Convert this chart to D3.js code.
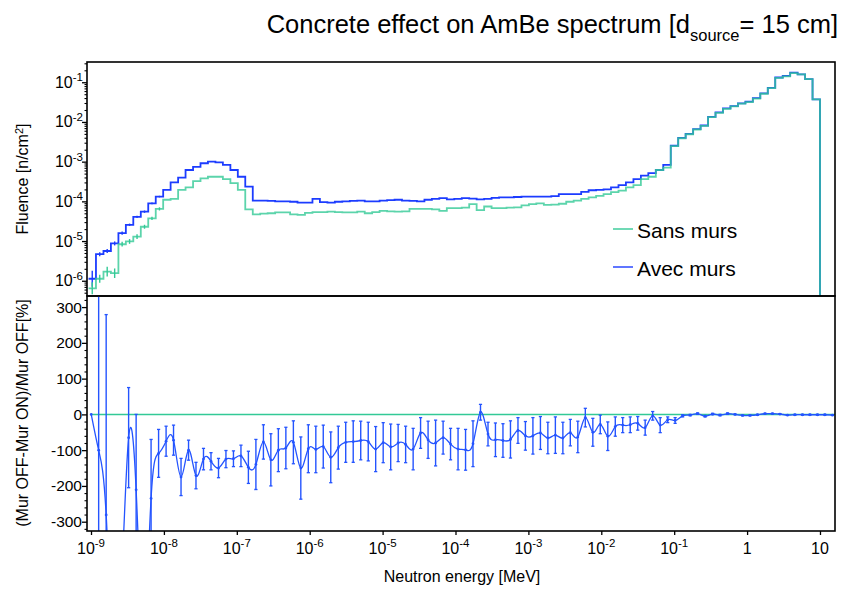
<!DOCTYPE html>
<html><head><meta charset="utf-8">
<script src="https://cdn.jsdelivr.net/npm/d3@7"></script>
<style>
body{margin:0;background:#fff}
text{font-family:"Liberation Sans",Arial,Helvetica,sans-serif;fill:#000}
</style>
</head><body>
<svg id="c" width="849" height="589"></svg>
<script>
// ---------------- DATA ----------------
// histogram bin edges (log10 of energy in MeV), 98 bins
const histEdgesLog10 = [-9.034,-8.932,-8.829,-8.727,-8.624,-8.522,-8.420,-8.317,-8.215,-8.112,
 -8.010,-7.908,-7.805,-7.703,-7.600,-7.498,-7.396,-7.293,-7.191,-7.088,
 -6.986,-6.884,-6.781,-6.679,-6.577,-6.474,-6.372,-6.269,-6.167,-6.065,
 -5.962,-5.860,-5.757,-5.655,-5.553,-5.450,-5.348,-5.245,-5.143,-5.041,
 -4.938,-4.836,-4.734,-4.631,-4.529,-4.426,-4.324,-4.222,-4.119,-4.017,
 -3.914,-3.812,-3.710,-3.607,-3.505,-3.402,-3.300,-3.198,-3.095,-2.993,
 -2.891,-2.788,-2.686,-2.583,-2.481,-2.379,-2.276,-2.174,-2.071,-1.969,
 -1.867,-1.764,-1.662,-1.559,-1.457,-1.355,-1.252,-1.150,-1.047,-0.945,
 -0.843,-0.740,-0.638,-0.535,-0.433,-0.331,-0.228,-0.126,-0.023,0.079,
 0.181,0.284,0.386,0.489,0.591,0.693,0.796,0.898,1.000];
// fluence per bin, log10 [n/cm2]
const sansMursLog10 = [-6.19,-5.95,-5.77,-5.81,-5.08,-5.01,-4.89,-4.64,-4.43,-4.19,
 -3.96,-3.94,-3.71,-3.65,-3.49,-3.42,-3.38,-3.38,-3.44,-3.54,
 -3.71,-4.20,-4.33,-4.31,-4.30,-4.28,-4.28,-4.33,-4.34,-4.29,
 -4.27,-4.27,-4.26,-4.27,-4.28,-4.28,-4.26,-4.30,-4.27,-4.24,
 -4.25,-4.26,-4.25,-4.19,-4.19,-4.19,-4.20,-4.24,-4.17,-4.17,
 -4.16,-4.07,-4.22,-4.13,-4.17,-4.17,-4.16,-4.15,-4.10,-4.07,
 -4.05,-4.09,-4.08,-4.06,-4.01,-3.98,-3.94,-3.90,-3.86,-3.82,
 -3.77,-3.73,-3.65,-3.59,-3.44,-3.38,-3.21,-3.15,-2.61,-2.41,
 -2.31,-2.19,-2.10,-1.88,-1.77,-1.67,-1.61,-1.54,-1.50,-1.41,
 -1.29,-1.15,-0.89,-0.85,-0.77,-0.80,-0.92,-1.43];
const avecMursLog10 = [-5.95,-5.33,-5.25,-5.06,-4.80,-4.59,-4.39,-4.26,-4.05,-3.88,
 -3.71,-3.52,-3.40,-3.21,-3.13,-3.04,-3.00,-3.02,-3.08,-3.21,
 -3.38,-3.63,-3.98,-3.98,-3.99,-4.00,-4.00,-4.01,-4.03,-4.03,
 -3.94,-4.02,-4.03,-4.01,-4.00,-3.99,-3.98,-4.00,-4.00,-3.98,
 -3.97,-3.96,-3.98,-3.99,-4.00,-3.96,-3.94,-3.92,-3.95,-3.94,
 -3.92,-3.93,-3.95,-3.94,-3.91,-3.90,-3.90,-3.89,-3.88,-3.88,
 -3.88,-3.88,-3.87,-3.82,-3.82,-3.82,-3.76,-3.72,-3.71,-3.70,
 -3.65,-3.59,-3.52,-3.44,-3.35,-3.29,-3.21,-3.08,-2.60,-2.40,
 -2.30,-2.18,-2.09,-1.87,-1.76,-1.66,-1.60,-1.53,-1.49,-1.40,
 -1.28,-1.14,-0.88,-0.84,-0.76,-0.80,-0.92,-1.43];
// statistical error (half length, in decades) of the first low-energy bins
const sansErrFirstLog10 = [0.15,0.10,0.12,0.12,0.06,0.06,0.06,0.05,0.04,0.04];
const avecErrFirstLog10 = [0.20,0.05,0.05,0.05,0.04,0.03,0.03,0.03,0.02,0.02];

// ratio panel: energies (log10 MeV), ratio [%] and error [%]
const ratioLog10E = [-8.997,-8.895,-8.792,-8.689,-8.586,-8.484,-8.381,-8.278,-8.176,-8.073,
 -7.970,-7.868,-7.765,-7.662,-7.560,-7.457,-7.354,-7.251,-7.149,-7.046,
 -6.943,-6.841,-6.738,-6.635,-6.533,-6.430,-6.327,-6.224,-6.122,-6.019,
 -5.916,-5.814,-5.711,-5.608,-5.506,-5.403,-5.300,-5.197,-5.095,-4.992,
 -4.889,-4.787,-4.684,-4.581,-4.479,-4.376,-4.273,-4.170,-4.068,-3.965,
 -3.862,-3.760,-3.657,-3.554,-3.452,-3.349,-3.246,-3.143,-3.041,-2.938,
 -2.835,-2.733,-2.630,-2.527,-2.425,-2.322,-2.219,-2.116,-2.014,-1.911,
 -1.808,-1.706,-1.603,-1.500,-1.398,-1.295,-1.192,-1.089,-0.987,-0.884,
 -0.781,-0.679,-0.576,-0.473,-0.371,-0.268,-0.165,-0.062,0.040,0.143,
 0.246,0.348,0.451,0.554,0.656,0.759,0.862,0.965,1.067,1.170];
const ratioPct = [0,-100,-281,-700,-500,-65,-211,-600,-235,-109,
 -75,-72,-175,-100,-171,-125,-131,-150,-125,-124,
 -116,-148,-140,-77,-127,-100,-94,-78,-150,-96,
 -98,-90,-120,-93,-78,-76,-73,-76,-97,-79,
 -91,-80,-84,-97,-52,-71,-80,-65,-83,-97,
 -99,-82,6,-55,-71,-73,-70,-45,-60,-60,
 -52,-66,-58,-66,-51,-63,-9,-50,-28,-61,
 -34,-30,-29,-25,-37,-4,-30,-15,-17,-4,
 -2,2,-5,1,-2,2,0,-3,-3,-1,
 2,2,1,-2,-1,-1,-1,-1,-1,-2];
const ratioErrPct = [0,600,560,150,150,140,211,200,165,67,
 42,42,52,28,37,30,24,27,24,22,
 30,45,70,48,73,60,58,60,87,67,
 65,60,71,60,56,58,54,54,63,56,
 64,52,51,58,43,52,64,46,44,58,
 57,64,22,33,47,47,52,36,40,51,
 46,44,51,44,37,44,26,39,26,40,
 27,21,22,19,21,12,21,8,8,3,
 2,2,2,2,2,2,1,1,1,1,
 1,1,1,1,1,1,1,1,1,1];

const fluenceTickExp = [-6,-5,-4,-3,-2,-1];
const ratioTicks = [-300,-200,-100,0,100,200,300];
const energyTickExp = [-9,-8,-7,-6,-5,-4,-3,-2,-1,0,1];
const energyTickLabels = [["10","-9"],["10","-8"],["10","-7"],["10","-6"],["10","-5"],["10","-4"],["10","-3"],["10","-2"],["10","-1"],["1",""],["10",""]];
const seriesNames = ["Sans murs","Avec murs"];

// ---------------- STYLE / LAYOUT ----------------
const GREEN = "#33c996", BLUE = "#1c3cff", RBLUE = "#2454ff";
const L = 87, R = 835, T1 = 62, B1 = 296, T2 = 296, B2 = 531;
const svg = d3.select("#c");
const P = v => Math.pow(10, v);

const x = d3.scaleLog().domain([P(-9.055), P(1.206)]).range([L, R]);
const yTop = d3.scaleLog().domain([P(-6.384), P(-0.49)]).range([B1, T1]);
const yBot = d3.scaleLinear().domain([-326, 331]).range([B2, T2]);

const defs = svg.append("defs");
defs.append("clipPath").attr("id","clipTop").append("rect").attr("x",L).attr("y",T1).attr("width",R-L).attr("height",B1-T1);
defs.append("clipPath").attr("id","clipBot").append("rect").attr("x",L).attr("y",T2).attr("width",R-L).attr("height",B2-T2);

// ---------------- TOP PANEL ----------------
const gTop = svg.append("g").attr("clip-path","url(#clipTop)");
function histPath(vals){
  const pts = vals.map((v,i)=>[x(P(histEdgesLog10[i])), yTop(P(v))]);
  pts.push([x(P(histEdgesLog10[vals.length])), yTop(P(vals[vals.length-1]))]);
  return d3.line().curve(d3.curveStepAfter)(pts) + "V" + (B1 + 20);
}
function errBars(g, vals, errs, color){
  errs.forEach((e,i)=>{
    const xc = x(P((histEdgesLog10[i]+histEdgesLog10[i+1])/2));
    g.append("line").attr("x1",xc).attr("x2",xc)
      .attr("y1",yTop(P(vals[i]-e))).attr("y2",yTop(P(vals[i]+e)))
      .attr("stroke",color).attr("stroke-width",1.4);
  });
}
gTop.append("path").attr("d",histPath(avecMursLog10)).attr("fill","none").attr("stroke",BLUE).attr("stroke-width",1.8);
errBars(gTop, avecMursLog10, avecErrFirstLog10, BLUE);
gTop.append("path").attr("d",histPath(sansMursLog10)).attr("fill","none").attr("stroke",GREEN).attr("stroke-width",1.8).attr("stroke-opacity",0.8);
errBars(gTop, sansMursLog10, sansErrFirstLog10, GREEN);

// y axis top
const majTop = fluenceTickExp.map(P);
const minTop = [];
for (let e=-7; e<=0; e++) for (let m=2; m<=9; m++){ const v=m*P(e); if (v>=yTop.domain()[0] && v<=yTop.domain()[1]) minTop.push(v); }
svg.append("g").attr("transform",`translate(${L},0)`)
  .call(d3.axisLeft(yTop).tickValues(majTop).tickSize(5).tickFormat(""))
  .call(g=>{g.select(".domain").remove(); g.selectAll("line").attr("stroke-width",1.3);});
svg.append("g").attr("transform",`translate(${L},0)`)
  .call(d3.axisLeft(yTop).tickValues(minTop).tickSize(2.5).tickFormat(""))
  .call(g=>{g.select(".domain").remove(); g.selectAll("line").attr("stroke-width",1.1);});
fluenceTickExp.forEach(e=>{
  const t = svg.append("text").attr("x",L-4).attr("y",yTop(P(e))+5.5).attr("text-anchor","end").attr("font-size",16);
  t.append("tspan").text("10");
  t.append("tspan").attr("dy",-6.5).attr("font-size",11.5).text(String(e));
});

// legend
const leg = svg.append("g");
[[GREEN, 229, 237.5],[BLUE, 267, 275.5]].forEach((d,i)=>{
  leg.append("line").attr("x1",613).attr("x2",633).attr("y1",d[1]).attr("y2",d[1]).attr("stroke",d[0]).attr("stroke-width",1.4);
  leg.append("text").attr("x",637).attr("y",d[2]).attr("font-size",21).text(seriesNames[i]);
});

// frame top
svg.append("rect").attr("x",L).attr("y",T1).attr("width",R-L).attr("height",B1-T1).attr("fill","none").attr("stroke","#000").attr("stroke-width",1.6);

// ---------------- BOTTOM PANEL ----------------
const gBot = svg.append("g").attr("clip-path","url(#clipBot)");
gBot.append("line").attr("x1",x(P(ratioLog10E[0]))).attr("x2",R).attr("y1",yBot(0)).attr("y2",yBot(0))
  .attr("stroke",GREEN).attr("stroke-width",1.5);
const rpts = ratioLog10E.map((e,i)=>({x:x(P(e)), v:ratioPct[i], err:ratioErrPct[i]}));
rpts.forEach(p=>{
  if (p.err <= 0) return;
  const y1 = yBot(p.v - p.err), y2 = yBot(p.v + p.err);
  gBot.append("line").attr("x1",p.x).attr("x2",p.x).attr("y1",y1).attr("y2",y2).attr("stroke",RBLUE).attr("stroke-width",1.4);
  [y1,y2].forEach(yy=>gBot.append("line").attr("x1",p.x-1.6).attr("x2",p.x+1.6).attr("y1",yy).attr("y2",yy).attr("stroke",RBLUE).attr("stroke-width",1.3));
});
gBot.append("path").attr("d", d3.line().x(p=>p.x).y(p=>yBot(p.v)).curve(d3.curveNatural)(rpts))
  .attr("fill","none").attr("stroke",RBLUE).attr("stroke-width",1.3);
gBot.selectAll("circle.pt").data(rpts).join("circle").attr("class","pt")
  .attr("cx",p=>p.x).attr("cy",p=>yBot(p.v)).attr("r",1.4).attr("fill",RBLUE);

// y axis bottom
svg.append("g").attr("transform",`translate(${L},0)`)
  .call(d3.axisLeft(yBot).tickValues(ratioTicks).tickSize(5).tickFormat(""))
  .call(g=>{g.select(".domain").remove(); g.selectAll("line").attr("stroke-width",1.3);});
const minBot = d3.range(-320, 331, 20).filter(v=>v%100!==0);
svg.append("g").attr("transform",`translate(${L},0)`)
  .call(d3.axisLeft(yBot).tickValues(minBot).tickSize(2.5).tickFormat(""))
  .call(g=>{g.select(".domain").remove(); g.selectAll("line").attr("stroke-width",1.1);});
ratioTicks.forEach(v=>{
  svg.append("text").attr("x",L-5).attr("y",yBot(v)+5.5).attr("text-anchor","end").attr("font-size",15.5).text(v);
});

// x axis
svg.append("g").attr("transform",`translate(0,${B2})`)
  .call(d3.axisBottom(x).tickValues(energyTickExp.map(P)).tickSize(4).tickFormat(""))
  .call(g=>{g.select(".domain").remove(); g.selectAll("line").attr("stroke-width",1.3);});
energyTickExp.forEach((e,i)=>{
  const t = svg.append("text").attr("x",x(P(e))).attr("y",554).attr("text-anchor","middle").attr("font-size",16);
  t.append("tspan").text(energyTickLabels[i][0]);
  if (energyTickLabels[i][1]) t.append("tspan").attr("dy",-7).attr("font-size",11.5).text(energyTickLabels[i][1]);
});

// frame bottom
svg.append("rect").attr("x",L).attr("y",T2).attr("width",R-L).attr("height",B2-T2).attr("fill","none").attr("stroke","#000").attr("stroke-width",1.6);

// axis titles
svg.append("text").attr("transform","translate(28,179) rotate(-90)").attr("text-anchor","middle").attr("font-size",16)
  .call(t=>{t.append("tspan").text("Fluence [n/cm"); t.append("tspan").attr("dy",-5).attr("font-size",11).text("2"); t.append("tspan").attr("dy",5).text("]");});
svg.append("text").attr("transform","translate(28,413) rotate(-90)").attr("text-anchor","middle").attr("font-size",16)
  .text("(Mur OFF-Mur ON)/Mur OFF[%]");
svg.append("text").attr("x",462).attr("y",582).attr("text-anchor","middle").attr("font-size",16).text("Neutron energy [MeV]");

// title
svg.append("text").attr("x",838).attr("y",33).attr("text-anchor","end").attr("font-size",25.5)
  .call(t=>{
    t.append("tspan").text("Concrete effect on AmBe spectrum [d");
    t.append("tspan").attr("dy",8).attr("font-size",16.5).text("source");
    t.append("tspan").attr("dy",-8).text("= 15 cm]");
  });
</script>
</body></html>
